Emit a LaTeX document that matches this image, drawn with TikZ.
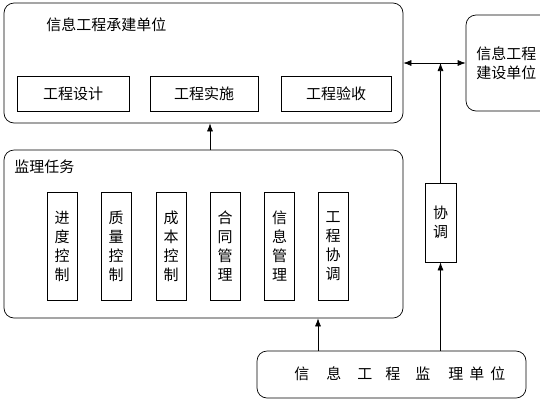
\documentclass[tikz,border=0pt]{standalone}
\usepackage{fontspec}
\newfontfamily\cjk{Noto Sans CJK SC}
\usetikzlibrary{positioning,arrows.meta}

\begin{document}
\begin{tikzpicture}[x=1pt,y=-1pt,line width=0.7pt]
\tikzstyle{every node}+=[inner sep=0pt,font=\cjk\fontsize{15}{19}\selectfont]
\tikzstyle{outer}=[draw,rounded corners=10pt]
\tikzstyle{item}=[draw,align=center]
\tikzstyle{arr}=[-{Latex[length=8pt,width=6pt]}]
\useasboundingbox (0,0) rectangle (540,400);
% top: 承建单位
\node[outer,minimum width=399pt,minimum height=120pt] (cjdw) at (203.5,63) {};
\node[anchor=west] (cjdwt) at (46,25) {信息工程承建单位};
\node[item,minimum width=112pt,minimum height=35pt] (gcsj) at (73,94) {工程设计};
\node[item,minimum width=108pt,minimum height=35pt] (gcss) at (204,94) {工程实施};
\node[item,minimum width=110pt,minimum height=35pt] (gcys) at (336,94) {工程验收};
% right: 建设单位
\node[outer,minimum width=134pt,minimum height=96pt] (jsdw) at (533,63) {};
\node[anchor=west,align=left] (jsdwt) at (476,63) {信息工程\\建设单位};
% middle: 监理任务
\node[outer,minimum width=399pt,minimum height=168pt] (jlrw) at (203.5,234) {};
\node[anchor=west] (jlrwt) at (14,167) {监理任务};
\node[item,minimum width=30pt,minimum height=108pt] (jdkz) at (62,246) {进\\度\\控\\制};
\node[item,minimum width=30pt,minimum height=108pt] (zlkz) at (116,246) {质\\量\\控\\制};
\node[item,minimum width=30pt,minimum height=108pt] (cbkz) at (171,246) {成\\本\\控\\制};
\node[item,minimum width=30pt,minimum height=108pt] (htgl) at (225,246) {合\\同\\管\\理};
\node[item,minimum width=30pt,minimum height=108pt] (xxgl) at (279.5,246) {信\\息\\管\\理};
\node[item,minimum width=30pt,minimum height=108pt] (gcxt) at (333,246) {工\\程\\协\\调};
% 协调
\node[item,minimum width=31pt,minimum height=79pt] (xt) at (440.5,222.5) {协\\调};
% bottom: 监理单位
\node[outer,minimum width=269pt,minimum height=47pt] (jldw) at (391.5,374.5) {};
\node[anchor=west] (jldwt) at (294,374) {信\hspace{17pt}息\hspace{16pt}工\hspace{13pt}程\hspace{15pt}监\hspace{18pt}理\hspace{6pt}单\hspace{6pt}位};
% connectors
\coordinate (up1) at (210,150);
\coordinate (up2) at (318,351);
\draw[arr] (up1) -- (up1 |- cjdw.south);
\draw[arr] (up2) -- (up2 |- jlrw.south);
\draw[{Latex[length=8pt,width=6pt]}-{Latex[length=8pt,width=6pt]}] (cjdw.east) -- (jsdw.west);
\draw[arr] (xt.north) -- (xt.north |- cjdw.east);
\draw[arr] (xt.south |- jldw.north) -- (xt.south);
\end{tikzpicture}
\end{document}
